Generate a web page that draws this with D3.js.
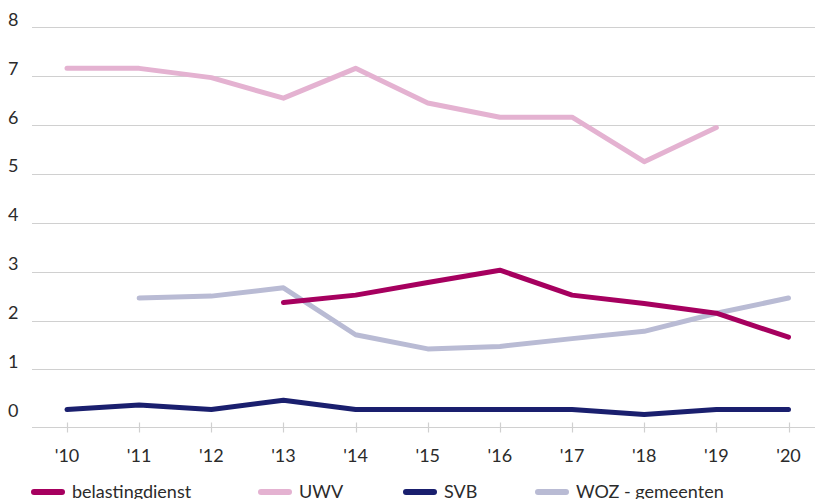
<!DOCTYPE html>
<html>
<head>
<meta charset="utf-8">
<script src="https://cdn.jsdelivr.net/npm/d3@7"></script>
<style>
  body { margin: 0; background: #fff; }
  svg { display: block; font-family: Lato, "Open Sans", sans-serif; }
  .grid line { stroke: #d0d0d0; stroke-width: 1.2; }
  .lbl { fill: #2b2b2b; font-size: 18px; }
</style>
</head>
<body>
<svg width="815" height="499"></svg>
<script>
var years = [2010, 2011, 2012, 2013, 2014, 2015, 2016, 2017, 2018, 2019, 2020];
var yearLabels = ["'10", "'11", "'12", "'13", "'14", "'15", "'16", "'17", "'18", "'19", "'20"];
var yTicks = [0, 1, 2, 3, 4, 5, 6, 7, 8];

// null = geen waarde
var belastingdienst = [null, null, null, 2.37, 2.52, 2.78, 3.03, 2.52, 2.35, 2.15, 1.66];
var uwv = [7.16, 7.16, 6.97, 6.55, 7.16, 6.45, 6.16, 6.16, 5.25, 5.95, null];
var svb = [0.18, 0.27, 0.18, 0.37, 0.18, 0.18, 0.18, 0.18, 0.08, 0.18, 0.18];
var woz = [null, 2.46, 2.50, 2.67, 1.71, 1.42, 1.47, 1.63, 1.78, 2.15, 2.46];

var seriesNames = ["belastingdienst", "UWV", "SVB", "WOZ - gemeenten"];
var seriesColors = ["#a6005f", "#e4b2d1", "#1a1f6e", "#b9bbd4"];

var svg = d3.select("svg");

var x = d3.scaleLinear().domain([2010, 2020]).range([67, 788.5]);
var y = d3.scaleLinear().domain([0, 8]).range([418.3, 27.3]);

var left = 32, right = 815;

// rasterlijnen
svg.append("g").attr("class", "grid")
  .selectAll("line")
  .data(yTicks.filter(function(d) { return d > 0; }))
  .join("line")
  .attr("x1", left).attr("x2", right)
  .attr("y1", function(d) { return Math.round(y(d)) + 0.5; })
  .attr("y2", function(d) { return Math.round(y(d)) + 0.5; });

// y-labels
svg.append("g")
  .selectAll("text")
  .data(yTicks)
  .join("text")
  .attr("class", "lbl")
  .attr("x", 8)
  .attr("y", function(d) { return y(d) - 1.5; })
  .text(function(d) { return d; });

// x-as
var axisY = Math.round(y(-0.17)) + 0.5;
var xAxis = svg.append("g").attr("class", "grid");
xAxis.append("line")
  .attr("x1", left).attr("x2", right)
  .attr("y1", axisY).attr("y2", axisY);
xAxis.selectAll("line.tick")
  .data(years)
  .join("line")
  .attr("class", "tick")
  .attr("x1", function(d) { return Math.round(x(d)) + 0.5; })
  .attr("x2", function(d) { return Math.round(x(d)) + 0.5; })
  .attr("y1", axisY - 5).attr("y2", axisY + 5);

svg.append("g")
  .selectAll("text")
  .data(years)
  .join("text")
  .attr("class", "lbl")
  .attr("text-anchor", "middle")
  .attr("x", function(d) { return x(d); })
  .attr("y", 461.5)
  .text(function(d, i) { return yearLabels[i]; });

// lijnen
var line = d3.line()
  .defined(function(d) { return d != null; })
  .x(function(d, i) { return x(years[i]); })
  .y(function(d) { return y(d); });

var allSeries = [uwv, woz, belastingdienst, svb];
var allColors = [seriesColors[1], seriesColors[3], seriesColors[0], seriesColors[2]];

svg.append("g")
  .selectAll("path")
  .data(allSeries)
  .join("path")
  .attr("d", line)
  .attr("fill", "none")
  .attr("stroke", function(d, i) { return allColors[i]; })
  .attr("stroke-width", 5)
  .attr("stroke-linecap", "round")
  .attr("stroke-linejoin", "round");

// legenda
var legendX = [31, 258, 403, 535];
var legend = svg.append("g")
  .selectAll("g")
  .data(seriesNames)
  .join("g")
  .attr("transform", function(d, i) { return "translate(" + legendX[i] + ",492)"; });

legend.append("line")
  .attr("x1", 3).attr("x2", 31)
  .attr("stroke", function(d, i) { return seriesColors[i]; })
  .attr("stroke-width", 6)
  .attr("stroke-linecap", "round");

legend.append("text")
  .attr("class", "lbl")
  .attr("x", 41)
  .attr("y", 5.5)
  .text(function(d) { return d; });
</script>
</body>
</html>
